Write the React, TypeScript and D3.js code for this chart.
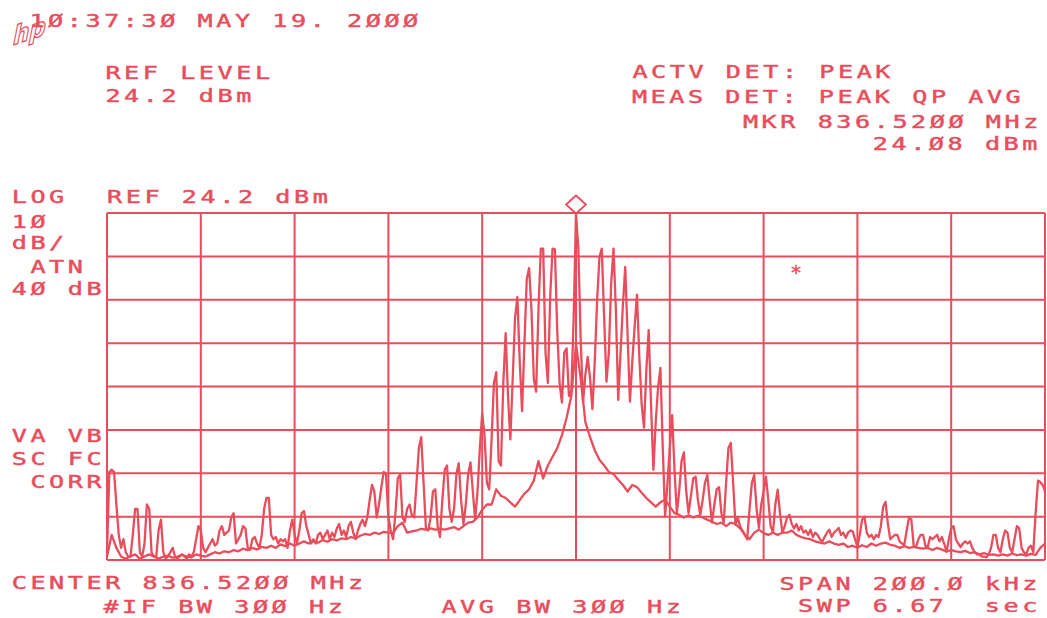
import React from "react";
import * as d3 from "d3";

// Sweep settings of the analyzer
const CENTER_MHZ = 836.52;
const SPAN_KHZ = 200;
const REF_LEVEL_DBM = 24.2;
const DB_PER_DIV = 10;
const H_DIVS = 10;
const V_DIVS = 8;
const ATTEN_DB = 40;
const MARKER_MHZ = 836.52;
const MARKER_DBM = 24.08;

// Peak-detector trace, 401 sweep points (dBm)
const peakTrace = [
  -54, -35.5, -35, -35.5, -43, -50, -53, -51, -54, -55,
  -55, -50, -44, -44, -54, -55, -52, -43, -44, -54,
  -55, -55, -49, -46.5, -54, -55.5, -55, -54, -53, -55,
  -55.5, -55, -54.5, -55, -55.5, -54.5, -55, -54, -51, -48,
  -49, -53, -54, -53, -52, -51, -52.5, -52, -49, -48,
  -50, -49.5, -49, -46, -45, -52, -51, -50, -48, -48.5,
  -53, -53.5, -51, -50.5, -52, -53, -50, -44, -41.5, -41.5,
  -50, -51, -50.5, -52, -51, -51.5, -51, -53, -49, -46.5,
  -50, -52, -49, -45, -44.5, -48, -50, -52, -51, -52,
  -50, -49.5, -51, -50, -49, -51, -49.5, -50.5, -48.5, -47.5,
  -50, -49, -50.5, -48, -47, -49.5, -51, -49, -47.5, -46.5,
  -48, -46, -42, -38.5, -40, -46, -43, -39, -35.5, -36,
  -46, -49, -51, -45, -37, -36, -46, -47, -44, -43,
  -45.5, -46, -38, -30, -27.5, -38, -48.5, -49, -46, -40,
  -39.5, -48, -50.5, -42, -35, -34, -44, -47, -44, -36,
  -33.5, -42, -47.5, -43, -36, -33.3, -40, -46.5, -40, -30,
  -22, -27, -38, -39.5, -28, -15, -12.5, -33, -34, -15,
  -3.5, -18, -28, -14, 0, 4.8, -10, -21.5, -6, 9,
  11.5, 2, -14, -17, 2, 16, 16, -8, -15, 5,
  16, 15.8, -3, -15, -19.5, -8, -7, -18, -17, 0,
  24.08, 16, -5, -19.5, -13, -9, -14, -21, -10, 4,
  14, 16, 0, -14.7, -8, 8, 16, 2, -18.9, -8,
  3, 11.8, -4, -19.3, -10, -2, 5.4, -9, -20, -25.3,
  -12, -2.8, -20, -35, -24, -16, -11.5, -30, -45.8, -38,
  -30, -22.4, -35, -45, -40, -33, -31, -40, -45, -41,
  -37, -36.6, -42, -45.4, -42, -38, -36.2, -42, -47.2, -43,
  -39.5, -39, -45, -47.2, -38, -30, -28.8, -38, -47.7, -46,
  -48.1, -49, -50, -51, -44, -38, -36.2, -44, -48.4, -43,
  -40, -36.6, -42, -48, -49.5, -43, -39.6, -45, -49.5, -48,
  -46, -45.4, -47.5, -48.5, -47.5, -49, -48, -49.5, -49, -50,
  -48.8, -50.5, -49.5, -50, -51, -51.6, -50.5, -49.5, -48.8, -50.5,
  -49.5, -49, -48.4, -50, -49.5, -50.7, -49.5, -49, -49.2, -51,
  -52.8, -50, -46.5, -45.8, -49.5, -50.5, -50, -51, -50, -50.5,
  -48, -43.5, -42.4, -47.5, -51, -50.5, -50, -50, -51.5, -52,
  -52.3, -49, -46, -46.5, -52.5, -52.8, -51, -50, -50, -52.5,
  -52.8, -50.5, -51, -50.5, -50, -51.5, -50.5, -52, -53.9, -51,
  -48.5, -48, -51, -52, -52.8, -52, -51.5, -52, -51.5, -53,
  -54, -54.5, -54.5, -55, -55, -55.2, -54.5, -53, -50, -50,
  -53, -54, -51, -49, -49.5, -53, -54, -51, -48, -48.5,
  -53, -54, -54.5, -53, -52.5, -54, -45, -37.5, -37.8, -38.5,
  -40,
];

// Second detector trace, 201 sweep points (dBm)
const avgTrace = [
  -55, -50, -53, -55, -55.5, -55, -54.5, -55.5, -55, -54.5,
  -55, -55.5, -55, -54.8, -55.3, -55, -54.6, -55, -55.2, -54.5,
  -54.8, -55, -54.5, -54, -54.3, -53.8, -54, -53.5, -53.8, -53.2,
  -53.5, -53, -53.4, -52.8, -53, -52.5, -53, -52.2, -52.6, -52,
  -52.5, -52, -51.5, -52, -51.5, -51.8, -51.2, -51.6, -51, -51.3,
  -50.8, -51, -50.5, -50.8, -50.2, -49.8, -50, -49.5, -49.8, -49.3,
  -49.5, -49.6, -48, -47.2, -49.5, -49.2, -49, -48.6, -48.8, -48.5,
  -48.8, -48.6, -48.8, -48.5, -48.2, -48.8, -48, -47.2, -47, -46,
  -44.2, -43, -43, -39.5, -41, -41.5, -42.5, -43.5, -42, -40.5,
  -39.5, -37.5, -33, -37, -34, -32, -30, -27, -23, -18,
  -6, -14, -24, -27.5, -30.5, -32.7, -34, -35.5, -36, -37.3,
  -38.5, -40, -38.5, -39, -40.3, -41.5, -42.5, -43.5, -42.5, -41.9,
  -43.5, -45, -45.4, -46, -45.5, -46, -45.6, -46, -46.5, -47,
  -47.5, -47.2, -48, -47.2, -47.5, -48.5, -50, -51, -49.5, -48.8,
  -49.6, -50, -49.5, -50, -49.5, -49.5, -49, -50, -50.5, -50.8,
  -51, -51.5, -51.8, -52, -51.5, -52, -52.3, -52, -52.8, -52.5,
  -53, -52.4, -52.8, -52, -52.5, -52, -51.8, -52.3, -52.5, -53,
  -52.6, -53, -52.8, -53, -53.2, -53, -53.5, -53, -53.4, -53.8,
  -53.5, -53.8, -54, -53.7, -54.2, -54, -54.5, -54.2, -54.6, -54.5,
  -54.8, -54.5, -54.8, -54.3, -54.7, -54.5, -54.8, -54.4, -54.6, -53,
  -52,
];

const INK = "#e84d5c";
const W = 1047;
const H = 618;
const PLOT = { left: 107, right: 1045, top: 213, bottom: 560 };

// Plotter-style monospaced lettering
const FONT_SIZE = 18;
const PITCH = 18.7;
const STRETCH = 1.4;
const ADVANCE = FONT_SIZE * 0.602;

const hpNum = (v: number, digits: number) => v.toFixed(digits).replace(/0/g, "Ø");

function Label({ cx, y, text }: { cx: number; y: number; text: string }) {
  const x = cx - (ADVANCE / 2) * STRETCH;
  return (
    <text
      transform={`translate(${x},${y}) scale(${STRETCH},1)`}
      fontFamily="'DejaVu Sans Mono', monospace"
      fontSize={FONT_SIZE}
      letterSpacing={PITCH / STRETCH - ADVANCE}
      fill={INK}
      stroke={INK}
      strokeWidth={0.45}
      xmlSpace="preserve"
      style={{ whiteSpace: "pre" }}
    >
      {text}
    </text>
  );
}

function traceX(n: number) {
  const start = CENTER_MHZ - SPAN_KHZ / 2000;
  const step = SPAN_KHZ / 1000 / (n - 1);
  return (i: number) => start + i * step;
}

export default function App() {
  const bottomDbm = REF_LEVEL_DBM - DB_PER_DIV * V_DIVS;
  const x = d3
    .scaleLinear()
    .domain([CENTER_MHZ - SPAN_KHZ / 2000, CENTER_MHZ + SPAN_KHZ / 2000])
    .range([PLOT.left, PLOT.right]);
  const y = d3.scaleLinear().domain([bottomDbm, REF_LEVEL_DBM]).range([PLOT.bottom, PLOT.top]);

  const fPeak = traceX(peakTrace.length);
  const fAvg = traceX(avgTrace.length);
  const line = d3
    .line<[number, number]>()
    .x((d) => x(d[0]))
    .y((d) => y(Math.max(bottomDbm, d[1])));
  const peakPath = line(peakTrace.map((v, i) => [fPeak(i), v]));
  const avgPath = line(avgTrace.map((v, i) => [fAvg(i), v]));

  const vTicks = d3.range(H_DIVS + 1).map((i) => x.domain()[0] + (i * SPAN_KHZ) / 1000 / H_DIVS);
  const hTicks = d3.range(V_DIVS + 1).map((i) => bottomDbm + i * DB_PER_DIV);

  const mx = x(MARKER_MHZ);
  const my = y(MARKER_DBM);

  return (
    <svg
      width={W}
      height={H}
      viewBox={`0 0 ${W} ${H}`}
      style={{ position: "absolute", left: 0, top: 0, background: "#ffffff" }}
    >
      <rect width={W} height={H} fill="#ffffff" />

      {/* hp logo */}
      <text
        transform="translate(13,45) rotate(-18) skewX(-20)"
        fontFamily="'DejaVu Sans', sans-serif"
        fontStyle="italic"
        fontWeight="bold"
        fontSize={24}
        fill="none"
        stroke={INK}
        strokeWidth={1.2}
      >
        hp
      </text>

      <Label cx={37} y={27} text="1Ø:37:3Ø MAY 19. 2ØØØ" />
      <Label cx={113} y={79} text="REF LEVEL" />
      <Label cx={113} y={102} text={`${hpNum(REF_LEVEL_DBM, 1)} dBm`} />
      <Label cx={640} y={78} text="ACTV DET: PEAK" />
      <Label cx={639.5} y={103} text="MEAS DET: PEAK QP AVG" />
      <Label cx={750.5} y={127.5} text={`MKR ${hpNum(MARKER_MHZ, 4)} MHz`} />
      <Label cx={880.4} y={150} text={`${hpNum(MARKER_DBM, 2)} dBm`} />

      <Label cx={19.3} y={203} text="LOG" />
      <Label cx={114.7} y={203} text={`REF ${hpNum(REF_LEVEL_DBM, 1)} dBm`} />
      <Label cx={19.3} y={228} text={hpNum(DB_PER_DIV, 0)} />
      <Label cx={19.3} y={249} text="dB/" />
      <Label cx={38} y={273} text="ATN" />
      <Label cx={19.3} y={295} text={`${hpNum(ATTEN_DB, 0)} dB`} />
      <Label cx={19.3} y={442} text="VA VB" />
      <Label cx={19.3} y={465} text="SC FC" />
      <Label cx={38} y={488} text="CORR" />

      <Label cx={19.3} y={589} text={`CENTER ${hpNum(CENTER_MHZ, 4)} MHz`} />
      <Label cx={111} y={613} text="#IF BW 3ØØ Hz" />
      <Label cx={449} y={613} text="AVG BW 3ØØ Hz" />
      <Label cx={787} y={590} text={`SPAN ${hpNum(SPAN_KHZ, 1)} kHz`} />
      <Label cx={805.6} y={612} text="SWP 6.67  sec" />

      {/* graticule */}
      <g stroke={INK} strokeWidth={2} fill="none">
        {vTicks.map((f, i) => (
          <line key={`v${i}`} x1={x(f)} x2={x(f)} y1={PLOT.top} y2={PLOT.bottom} />
        ))}
        {hTicks.map((d, i) => (
          <line key={`h${i}`} x1={PLOT.left} x2={PLOT.right} y1={y(d)} y2={y(d)} />
        ))}
      </g>

      {/* traces */}
      <g fill="none" stroke={INK} strokeWidth={2.3} strokeLinejoin="round">
        <path d={avgPath ?? ""} />
        <path d={peakPath ?? ""} />
      </g>

      {/* marker diamond sitting on the peak */}
      <path
        d={`M${mx},${my} L${mx + 10},${my - 9} L${mx},${my - 18} L${mx - 10},${my - 9} Z`}
        fill="#ffffff"
        stroke={INK}
        strokeWidth={1.8}
      />

      <text
        x={796}
        y={279}
        textAnchor="middle"
        fontFamily="'DejaVu Sans Mono', monospace"
        fontSize={20}
        fill={INK}
        stroke={INK}
        strokeWidth={0.4}
      >
        *
      </text>
    </svg>
  );
}
